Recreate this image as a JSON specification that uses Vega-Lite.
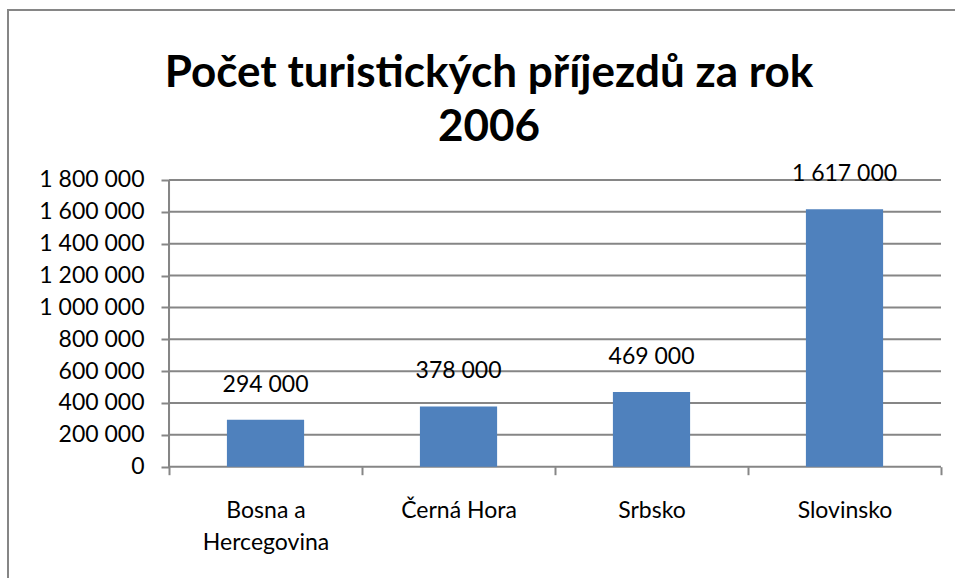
{
  "$schema": "https://vega.github.io/schema/vega-lite/v6.json",
  "width": 948,
  "height": 569,
  "autosize": {"type": "none"},
  "padding": {"left": 8, "top": 10, "right": -1, "bottom": -1},
  "background": "white",
  "config": {
    "view": {"stroke": "#868686", "strokeWidth": 2},
    "font": "Lato",
    "locale": {"number": {"decimal": ",", "thousands": " ", "grouping": [3], "currency": ["", " Kč"]}}
  },
  "title": {
    "text": ["Počet turistických příjezdů za rok", "2006"],
    "fontSize": 44,
    "font": "Lato",
    "fontWeight": "bold",
    "color": "black",
    "lineHeight": 54,
    "anchor": "middle",
    "frame": "group",
    "baseline": "top",
    "offset": 0,
    "dy": 140,
    "dx": 7
  },
  "layer": [
    {
      "data": {"values": [{"v": 0}, {"v": 200000}, {"v": 400000}, {"v": 600000}, {"v": 800000}, {"v": 1000000}, {"v": 1200000}, {"v": 1400000}, {"v": 1600000}, {"v": 1800000}]},
      "mark": {"type": "rule", "color": "#868686", "strokeWidth": 2},
      "encoding": {
        "y": {"field": "v", "type": "quantitative"},
        "x": {"datum": "Bosna a Hercegovina", "type": "nominal", "bandPosition": 0},
        "x2": {"datum": "Slovinsko", "bandPosition": 1}
      }
    },
    {
      "data": {"values": [{"v": 0}, {"v": 1800000}]},
      "mark": {"type": "rule", "color": "#868686", "strokeWidth": 2},
      "encoding": {
        "x": {"datum": "Bosna a Hercegovina", "type": "nominal", "bandPosition": 0},
        "y": {"datum": 0, "type": "quantitative"},
        "y2": {"datum": 1800000}
      }
    },
    {
      "data": {"values": [
        {"country": "Bosna a Hercegovina", "value": 294000},
        {"country": "Černá Hora", "value": 378000},
        {"country": "Srbsko", "value": 469000},
        {"country": "Slovinsko", "value": 1617000}
      ]},
      "layer": [
        {
          "mark": {"type": "bar", "color": "#4F81BD", "width": {"band": 0.4}},
          "encoding": {
            "x": {
              "field": "country",
              "type": "nominal",
              "scale": {"domain": ["Bosna a Hercegovina", "Černá Hora", "Srbsko", "Slovinsko"], "paddingInner": 0, "paddingOuter": 0.456, "align": 0.9148},
              "axis": {
                "orient": "bottom",
                "offset": -112.3,
                "domain": false,
                "tickBand": "extent",
                "tickSize": 8,
                "tickWidth": 2,
                "tickColor": "#868686",
                "labelFont": "Lato",
                "labelFontSize": 23,
                "labelColor": "black",
                "labelPadding": 36,
                "labelAngle": 0,
                "labelAlign": "center",
                "labelLineHeight": 32,
                "labelExpr": "datum.value == 'Bosna a Hercegovina' ? ['Bosna a', 'Hercegovina'] : datum.value",
                "title": null
              }
            },
            "y": {
              "field": "value",
              "type": "quantitative",
              "scale": {"domain": [-705053, 2867311], "nice": false, "zero": false},
              "axis": {
                "values": [0, 200000, 400000, 600000, 800000, 1000000, 1200000, 1400000, 1600000, 1800000],
                "format": ",d",
                "offset": -161,
                "grid": false,
                "domain": false,
                "tickSize": 8,
                "tickWidth": 2,
                "tickColor": "#868686",
                "labelFont": "Lato",
                "labelFontSize": 23,
                "labelColor": "black",
                "labelPadding": 17,
                "title": null
              }
            },
            "y2": {"datum": 0}
          }
        },
        {
          "mark": {"type": "text", "fontSize": 23, "font": "Lato", "color": "black", "baseline": "middle", "dy": -35},
          "encoding": {
            "x": {"field": "country", "type": "nominal"},
            "y": {"field": "value", "type": "quantitative"},
            "text": {"field": "value", "type": "quantitative", "format": ",d"}
          }
        }
      ]
    }
  ]
}
